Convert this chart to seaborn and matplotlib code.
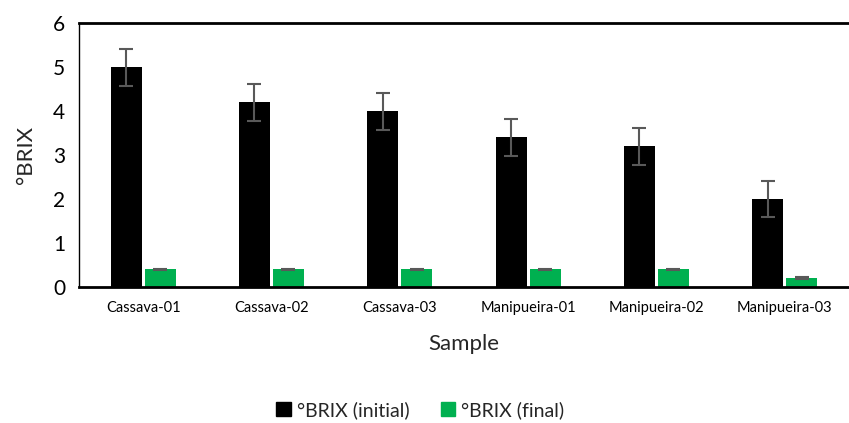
import numpy as np
import pandas as pd
import matplotlib
matplotlib.use("Agg")
import matplotlib.pyplot as plt
import seaborn as sns

samples = ["Cassava-01", "Cassava-02", "Cassava-03", "Manipueira-01", "Manipueira-02", "Manipueira-03"]
brix_initial = [5.0, 4.2, 4.0, 3.4, 3.2, 2.0]
brix_final = [0.4, 0.4, 0.4, 0.4, 0.4, 0.2]
err_initial = [0.42, 0.42, 0.42, 0.42, 0.42, 0.42]
err_final = [0.02, 0.02, 0.02, 0.02, 0.02, 0.02]
series = ["°BRIX (initial)", "°BRIX (final)"]
colors = {"°BRIX (initial)": "#000000", "°BRIX (final)": "#00B050"}

df = pd.DataFrame({
    "Sample": samples * 2,
    "value": brix_initial + brix_final,
    "err": err_initial + err_final,
    "series": [series[0]] * len(samples) + [series[1]] * len(samples),
})

sns.set_theme(style="white")
plt.rcParams["font.family"] = ["Lato", "DejaVu Sans"]

fig = plt.figure(figsize=(8.49, 4.23), dpi=100)
ax = fig.add_axes([0.093, 0.3215, 0.907, 0.624])

sns.barplot(data=df, x="Sample", y="value", hue="series", palette=colors,
            saturation=1, width=0.53, gap=0.09, errorbar=None, linewidth=0,
            ax=ax, legend=False)

for cont, s in zip(ax.containers, series):
    errs = df.loc[df["series"] == s, "err"].to_numpy()
    xs = [p.get_x() + p.get_width() / 2 for p in cont.patches]
    hs = [p.get_height() for p in cont.patches]
    ax.errorbar(xs, hs, yerr=errs, fmt="none", ecolor="#595959", elinewidth=1.5,
                capsize=5, capthick=1.5, zorder=5)

ax.set_ylim(0, 6)
ax.set_xlim(-0.5, 5.5)
ax.set_yticks(range(0, 7))
ax.tick_params(axis="y", labelsize=15, length=0, pad=10, labelcolor="black")
ax.tick_params(axis="x", labelsize=10.5, length=0, pad=10, labelcolor="black")
ax.set_xlabel("Sample", fontsize=16, labelpad=14)
ax.set_ylabel("°BRIX", fontsize=16, labelpad=12)

ax.spines["right"].set_visible(False)
ax.spines["top"].set_linewidth(2)
ax.spines["bottom"].set_linewidth(2)
ax.spines["left"].set_linewidth(1)
for sp in ["top", "bottom", "left"]:
    ax.spines[sp].set_color("black")

handles = [plt.Rectangle((0, 0), 1, 1, color=colors[s]) for s in series]
fig.legend(handles, series, loc="center", bbox_to_anchor=(0.495, 0.031), ncol=2,
           frameon=False, fontsize=14, handlelength=0.75, handleheight=0.75,
           handletextpad=0.3, columnspacing=1.6)

fig.savefig("out.png", dpi=100)
